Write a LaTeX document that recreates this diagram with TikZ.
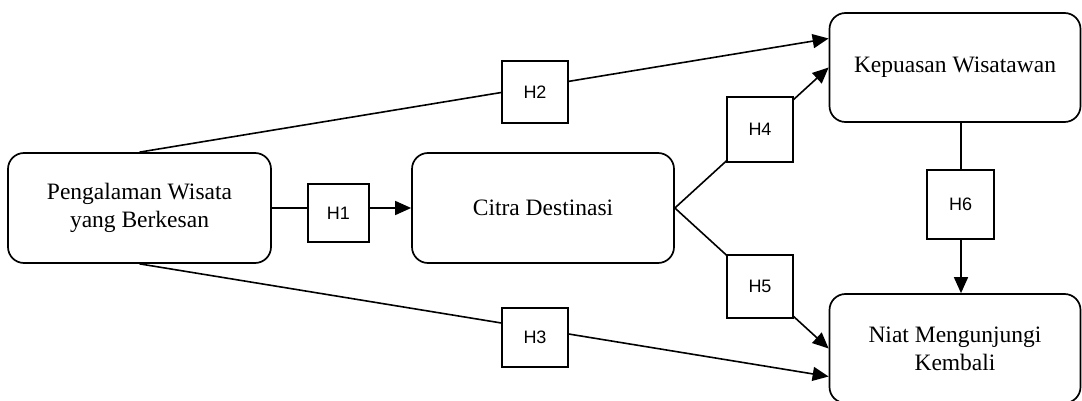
\documentclass[tikz,border=0pt]{standalone}
\usepackage{fontspec}
\setmainfont{Liberation Serif}
\setsansfont{Liberation Sans}
\usetikzlibrary{arrows.meta}
\begin{document}
\begin{tikzpicture}[x=1pt,y=-1pt,
  var/.style={draw, line width=1.7pt, rounded corners=16pt, align=center,
    inner sep=0pt, font=\fontsize{23.5}{28}\selectfont},
  hyp/.style={draw, fill=white, line width=1.7pt, inner sep=0pt,
    font=\sffamily\fontsize{18}{21}\selectfont},
  link/.style={line width=1.6pt},
  arr/.style={link, -{Triangle[length=16pt,width=14pt]}}]
\useasboundingbox (0,0) rectangle (1082,401);
\clip (0,0) rectangle (1082,401);

% constructs
\node[var, minimum width=263pt, minimum height=110pt] (pws) at (139.5,208)
  {Pengalaman Wisata\\yang Berkesan};
\node[var, minimum width=262pt, minimum height=110pt] (cd) at (543,208)
  {Citra Destinasi};
\node[var, minimum width=251pt, minimum height=109pt] (kw) at (955,67.5)
  {Kepuasan Wisatawan};
\node[var, minimum width=251pt, minimum height=109pt] (nmk) at (955,348.5)
  {Niat Mengunjungi\\Kembali};

% paths between constructs
\draw[arr] (pws.east) -- (cd.west);
\draw[arr] (pws.north) -- ([yshift=29pt]kw.west);
\draw[arr] (pws.south) -- ([yshift=-28pt]nmk.west);
\draw[arr] (cd.east) -- (kw.west);
\draw[arr] (cd.east) -- (nmk.west);
\draw[arr] ([xshift=6pt]kw.south) -- ([xshift=6pt]nmk.north);

% hypothesis labels
\node[hyp, minimum width=61pt, minimum height=58pt] (h1) at (338.5,213) {H1};
\node[hyp, minimum width=66pt, minimum height=62pt] (h2) at (535,92) {H2};
\node[hyp, minimum width=66pt, minimum height=59pt] (h3) at (535,337.5) {H3};
\node[hyp, minimum width=66pt, minimum height=65pt] (h4) at (760,129.5) {H4};
\node[hyp, minimum width=66pt, minimum height=63pt] (h5) at (760,286.5) {H5};
\node[hyp, minimum width=67pt, minimum height=69pt] (h6) at (960.5,204.5) {H6};
\end{tikzpicture}
\end{document}
